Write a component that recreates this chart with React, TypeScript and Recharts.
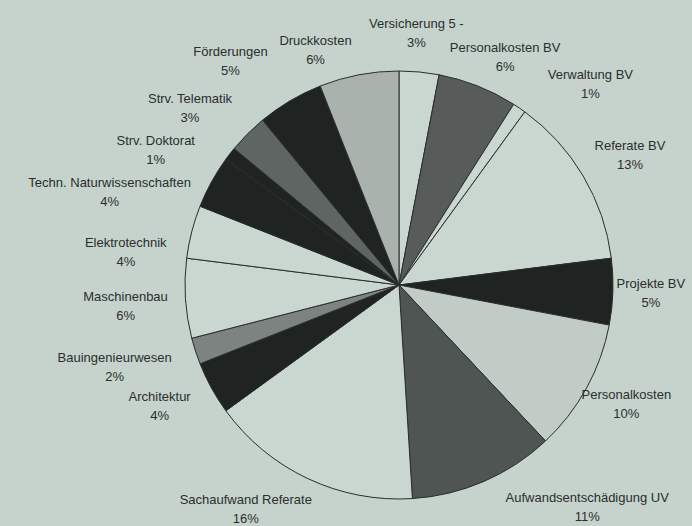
import { Cell, Pie, PieChart } from 'recharts'

// Anteile im Uhrzeigersinn ab 12 Uhr
const labels = [
  'Versicherung 5 -',
  'Personalkosten BV',
  'Verwaltung BV',
  'Referate BV',
  'Projekte BV',
  'Personalkosten',
  'Aufwandsentschädigung UV',
  'Sachaufwand Referate',
  'Architektur',
  'Bauingenieurwesen',
  'Maschinenbau',
  'Elektrotechnik',
  'Techn. Naturwissenschaften',
  'Strv. Doktorat',
  'Strv. Telematik',
  'Förderungen',
  'Druckkosten'
]
const shares = [3, 6, 1, 13, 5, 10, 11, 16, 4, 2, 6, 4, 4, 1, 3, 5, 6]

const data = labels.map((name, i) => ({ name, value: shares[i] }))

const BG = '#c5d3cc'
const LIGHT = '#cad6d0'
const BLACK = '#1f2322'
const colors = [
  LIGHT, '#575c5a', LIGHT, LIGHT, BLACK, '#c1ccc6', '#4f5552', LIGHT,
  BLACK, '#7d8380', LIGHT, LIGHT, BLACK, BLACK, '#5f6562', BLACK, '#a9b2ad'
]

// Excel hat die Beschriftungen etwas verschoben
const nudge: [number, number][] = [
  [-9, 9], [3, 16], [34, 16], [-10, 3], [-28, 0], [-18, -7], [77, -18], [-34, -13],
  [6, -5], [-18, 1], [6, 5], [-2, 32], [-44, 33], [-22, 26], [-11, 8], [-26, 2], [-31, 22]
]

const RAD = Math.PI / 180

function renderLabel(props: any) {
  const { cx, cy, midAngle, index, name, value } = props
  const x = cx + 280 * Math.cos(-midAngle * RAD) + nudge[index][0]
  const y = cy + 262 * Math.sin(-midAngle * RAD) + nudge[index][1]
  return (
    <text x={x} y={y} textAnchor="middle" fill="#2b2e2d" fontSize={13} fontFamily="Liberation Sans, Arial, sans-serif">
      <tspan x={x} dy={-5}>{name}</tspan>
      <tspan x={x} dy={19}>{value}%</tspan>
    </text>
  )
}

export default function App() {
  return (
    <div style={{ position: 'absolute', left: 0, top: 0, width: 692, height: 526, background: BG, overflow: 'hidden' }}>
      <PieChart width={692} height={526}>
        <Pie
          data={data}
          dataKey="value"
          nameKey="name"
          cx={394}
          cy={280}
          outerRadius={214}
          startAngle={90}
          endAngle={-270}
          stroke="#2a2d2c"
          strokeWidth={1}
          labelLine={false}
          label={renderLabel}
          isAnimationActive={false}
        >
          {data.map((d, i) => (
            <Cell key={d.name} fill={colors[i]} />
          ))}
        </Pie>
      </PieChart>
    </div>
  )
}
